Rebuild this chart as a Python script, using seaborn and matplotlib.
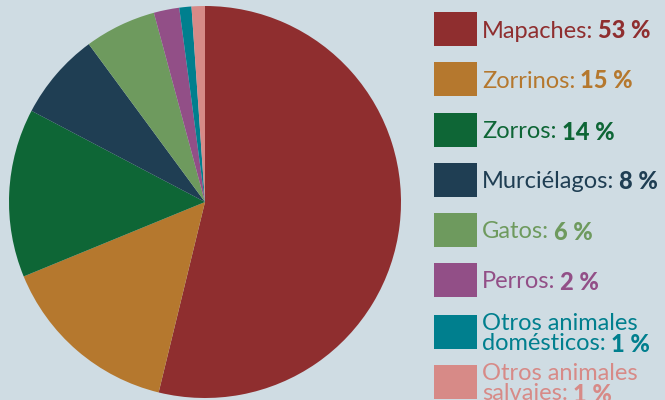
import matplotlib
matplotlib.use("Agg")
import matplotlib.pyplot as plt
import matplotlib.patches as mpatches
import seaborn as sns

# data
animales = ["Mapaches", "Zorrinos", "Zorros", "Murciélagos", "Gatos", "Perros",
            "Otros animales\ndomésticos", "Otros animales\nsalvajes"]
shares = [53.8, 15.0, 13.9, 7.2, 5.9, 2.1, 1.0, 1.1]
pct_labels = ["53 %", "15 %", "14 %", "8 %", "6 %", "2 %", "1 %", "1 %"]
colores = ["#8f2e2f", "#b5782e", "#0e6636", "#1f3e53", "#6e9a5e", "#924f87",
           "#007f8e", "#d78a87"]

bg = "#cfdce3"
sns.set_theme(style="white", rc={"figure.facecolor": bg, "axes.facecolor": bg})
plt.rcParams['font.family'] = ['Lato', 'DejaVu Sans']
pal = sns.color_palette(colores)

W, H = 665, 400
fig = plt.figure(figsize=(W / 100, H / 100), dpi=100)

# pie
cx, cy, r = 205, 202, 196
ax = fig.add_axes([(cx - r) / W, (H - cy - r) / H, 2 * r / W, 2 * r / H])
ax.pie(shares, colors=pal, startangle=90, counterclock=False,
       wedgeprops=dict(linewidth=0))
ax.set_xlim(-1, 1)
ax.set_ylim(-1, 1)
ax.set_aspect("equal")
ax.axis("off")

# legend, drawn by hand so the percentage can be bold
fig.canvas.draw()
renderer = fig.canvas.get_renderer()
row_y = [29, 79, 130, 180, 230, 280, 332, 382]
fs = 17
for name, pct, col, y in zip(animales, pct_labels, pal, row_y):
    fig.patches.append(mpatches.Rectangle((434 / W, (H - y - 17) / H), 43 / W, 34 / H,
                                          transform=fig.transFigure, color=col, lw=0))
    lines = name.split("\n")
    lh = 20
    y0 = y - (len(lines) - 1) * lh / 2
    for i, ln in enumerate(lines):
        yy = (H - (y0 + i * lh)) / H
        is_last = i == len(lines) - 1
        t = fig.text(482 / W, yy, ln + (":" if is_last else ""), color=col,
                     fontsize=fs, va="center_baseline", ha="left")
        if is_last:
            bb = t.get_window_extent(renderer)
            fig.text((bb.x1 + 5) / W, yy, pct, color=col, fontsize=fs,
                     va="center_baseline", ha="left", fontweight="black")

fig.savefig("out.png", dpi=100, facecolor=bg)
